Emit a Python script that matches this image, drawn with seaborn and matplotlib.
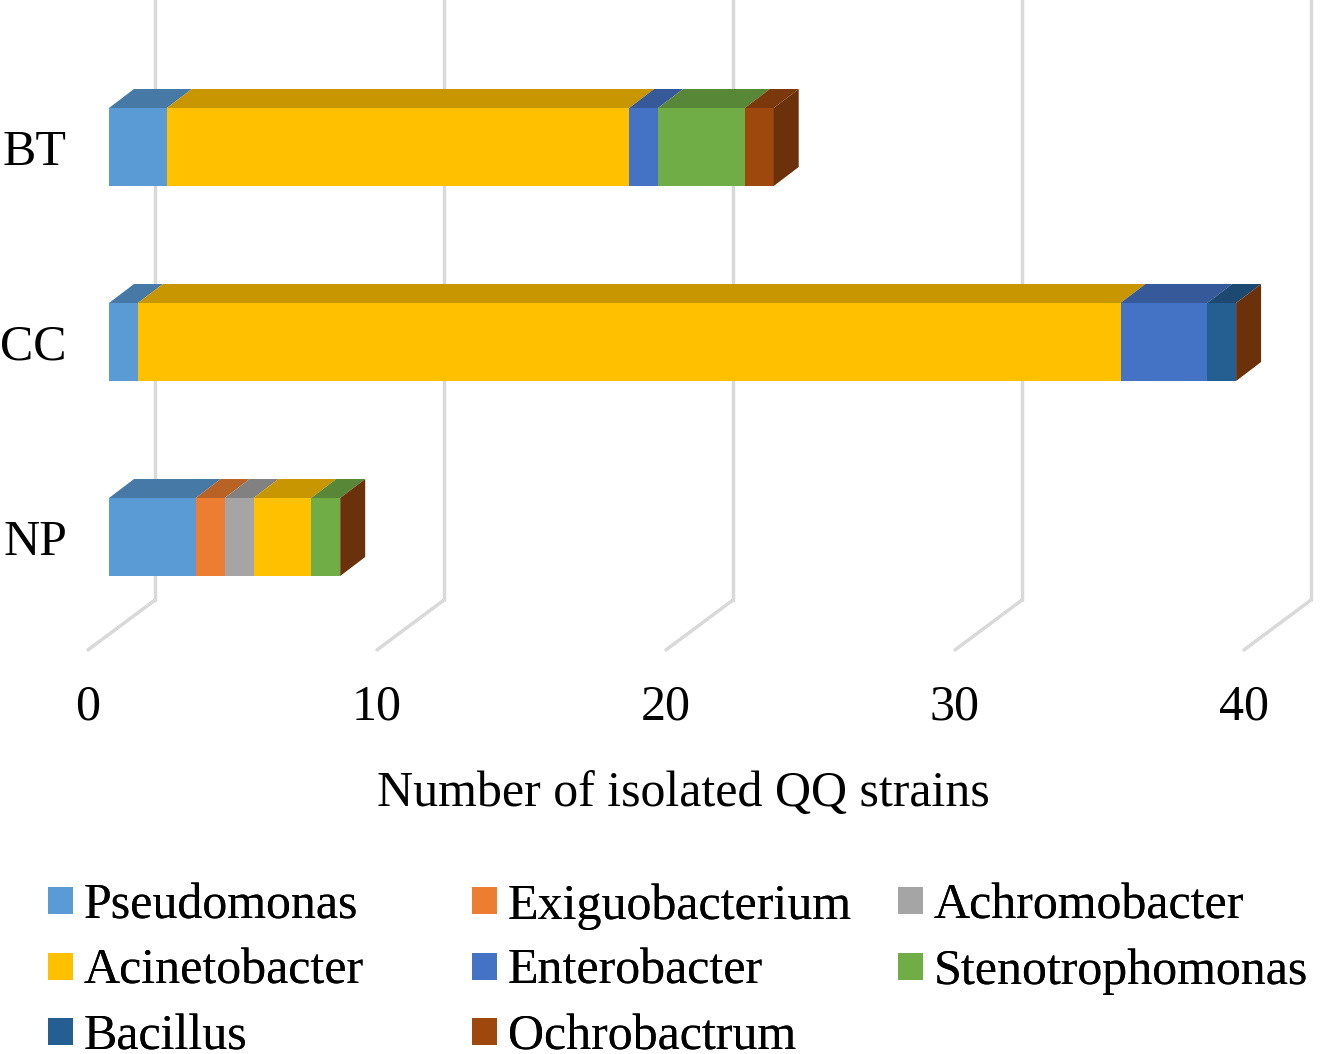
import numpy as np
import pandas as pd
import seaborn as sns
import matplotlib.pyplot as plt
from matplotlib.patches import Polygon, Patch
from matplotlib.colors import to_rgb

# data
sites = ["BT", "CC", "NP"]
genera = ["Pseudomonas", "Exiguobacterium", "Achromobacter", "Acinetobacter",
          "Enterobacter", "Stenotrophomonas", "Bacillus", "Ochrobactrum"]
pseudomonas = [2, 1, 3]
exiguobacterium = [0, 0, 1]
achromobacter = [0, 0, 1]
acinetobacter = [16, 34, 2]
enterobacter = [1, 3, 0]
stenotrophomonas = [3, 0, 1]
bacillus = [0, 1, 0]
ochrobactrum = [1, 0, 0]
x_ticks = [0, 10, 20, 30, 40]

colors = ["#5B9BD5", "#ED7D31", "#A5A5A5", "#FFC000",
          "#4472C4", "#70AD47", "#255E91", "#9E480E"]

values = np.array([pseudomonas, exiguobacterium, achromobacter, acinetobacter,
                   enterobacter, stenotrophomonas, bacillus, ochrobactrum])
cum = values.cumsum(axis=0)
df = pd.DataFrame(cum.T, columns=genera)
df["site"] = sites

sns.set_style("white")
plt.rcParams["font.family"] = ["Liberation Serif", "DejaVu Serif"]
plt.rcParams["text.color"] = "black"
plt.rcParams["xtick.color"] = "black"
plt.rcParams["ytick.color"] = "black"
plt.rcParams["axes.labelcolor"] = "black"

fig = plt.figure(figsize=(13.28, 10.54), dpi=100)
ax = fig.add_axes([78 / 1328, 364 / 1054, 1242 / 1328, 690 / 1054])


def shade(c, f):
    r, g, b = to_rgb(c)
    return (r * f, g * f, b * f)


bar_h = 0.4
dx, dy = 0.865, -0.0974      # depth of the bars (fake 3D)
front = -0.727               # floor front edge offset
wall_dx, wall_dy = 2.32, -0.256
floor_y = 2.579

# back wall gridlines and floor lines
for t in x_ticks:
    ax.plot([t + front + wall_dx] * 2, [floor_y + wall_dy, -0.76], color="#D9D9D9", lw=2.5, zorder=0)
    ax.plot([t + front, t + front + wall_dx], [floor_y, floor_y + wall_dy], color="#D9D9D9", lw=2.5, zorder=0)

# front faces: stacked by drawing cumulative totals back to front
for g, c in reversed(list(zip(genera, colors))):
    sns.barplot(data=df, x=g, y="site", color=c, width=bar_h, orient="h",
                linewidth=0, saturation=1, ax=ax, zorder=2)

# top faces and end faces
for i in range(len(sites)):
    y0 = i - bar_h / 2
    left = 0
    for k, c in enumerate(colors):
        v = values[k, i]
        if v > 0:
            right = left + v
            ax.add_patch(Polygon([(left, y0), (right, y0), (right + dx, y0 + dy), (left + dx, y0 + dy)],
                                 closed=True, fc=shade(c, 0.78), ec="none", zorder=3))
            left = right
    total = cum[-1, i]
    ax.add_patch(Polygon([(total, y0), (total, y0 + bar_h), (total + dx, y0 + bar_h + dy), (total + dx, y0 + dy)],
                         closed=True, fc=shade(colors[-1], 0.68), ec="none", zorder=3))

ax.set_xlim(-31 / 28.9, 1211 / 28.9)
ax.set_ylim(543 / 195, -147 / 195)
ax.set_xticks([t + front for t in x_ticks])
ax.set_xticklabels([str(t) for t in x_ticks], fontsize=36)
ax.set_yticks(range(len(sites)))
ax.set_yticklabels(sites, fontsize=36)
ax.tick_params(axis="both", length=0)
ax.tick_params(axis="x", pad=-4)
ax.tick_params(axis="y", pad=8)
for s in ax.spines.values():
    s.set_visible(False)
ax.set_ylabel("")
ax.set_xlabel("Number of isolated QQ strains", fontsize=36)
ax.xaxis.set_label_coords((683 - 78) / 1242, -0.117)

# legend in three equal-width columns like the original
handles = [Patch(fc=c, ec="none") for c in colors]
columns = [[0, 3, 6], [1, 4, 7], [2, 5]]
col_x = [48, 472, 898]
for idx, xpx in zip(columns, col_x):
    leg = fig.legend([handles[j] for j in idx], [genera[j] for j in idx],
                     loc="upper left", bbox_to_anchor=(xpx / 1328, (1054 - 883) / 1054),
                     frameon=False, fontsize=36, borderpad=0, borderaxespad=0,
                     handlelength=0.5, handleheight=0.45, handletextpad=0.22,
                     labelspacing=0.38)
    fig.add_artist(leg)

fig.savefig("out.png", dpi=100)
